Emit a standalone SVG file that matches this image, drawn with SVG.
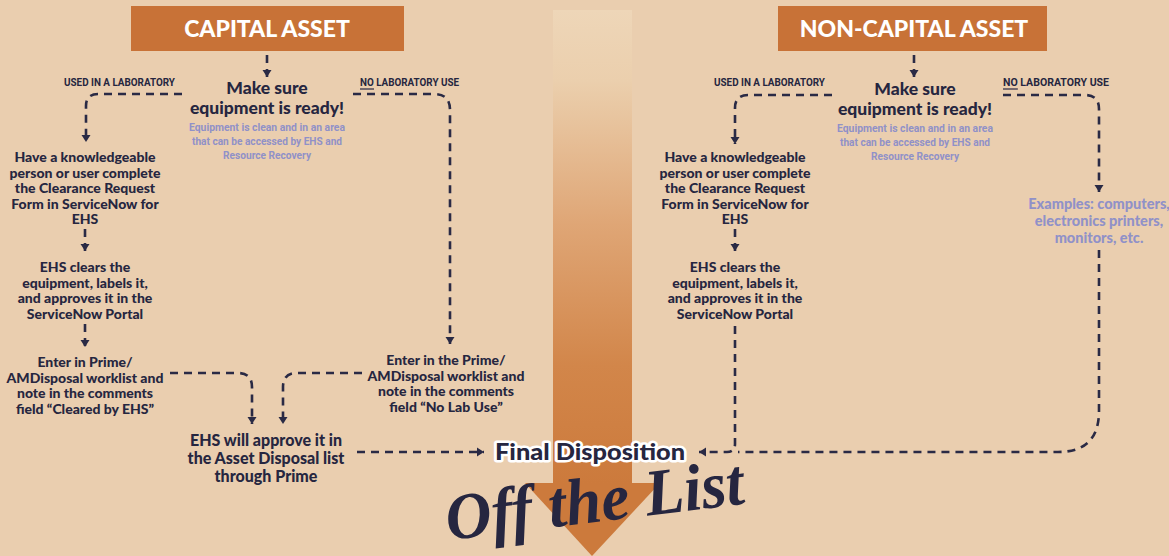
<svg xmlns="http://www.w3.org/2000/svg" width="1169" height="556" viewBox="0 0 1169 556">
<defs>
<style>
.t{font-family:Lato,"Open Sans","Liberation Sans",sans-serif;font-weight:900;fill:#262640;text-anchor:middle}
.body{font-size:14px}
.big{font-size:16px}
.head{font-size:17.5px}
.title{font-size:23px;fill:#ffffff}
.sub{font-family:Roboto,"Liberation Sans",sans-serif;font-weight:700;font-size:10.5px;fill:#9091c8;text-anchor:middle}
.ex{font-size:14.5px;fill:#9091c8}
.lab{font-family:Roboto,"Liberation Sans",sans-serif;font-weight:700;font-size:10.5px;fill:#262640}
.box{fill:#c87237}
.dash{fill:none;stroke:#2a2a45;stroke-width:2.6;stroke-dasharray:8 6;marker-end:url(#ah)}
.dashn{fill:none;stroke:#2a2a45;stroke-width:2.6;stroke-dasharray:8 6}
.final{font-size:22px;stroke:#ffffff;stroke-width:5px;stroke-linejoin:round;paint-order:stroke}
</style>
<marker id="ah" markerUnits="userSpaceOnUse" markerWidth="12" markerHeight="12" viewBox="-1 -6 10 12" refX="7" refY="0" orient="auto">
<path d="M0,-4.5 L7,0 L0,4.5 Z" fill="#2a2a45"/>
</marker>
<linearGradient id="shaft" x1="0" y1="10" x2="0" y2="484" gradientUnits="userSpaceOnUse">
<stop offset="0" stop-color="#eed6b8"/>
<stop offset="0.15" stop-color="#ebcfad"/>
<stop offset="0.45" stop-color="#dfa676"/>
<stop offset="0.75" stop-color="#d2864a"/>
<stop offset="1" stop-color="#cc7a3c"/>
</linearGradient>
</defs>
<rect x="0" y="0" width="1169" height="556" fill="#eaceaf"/>

<g id="big-arrow">
<rect x="553" y="10" width="79" height="474" fill="url(#shaft)"/>
<path d="M525,483 L660,483 L592,556 Z" fill="#cc7a3c"/>
</g>

<g id="off-the-list">
<text x="595" y="522" transform="rotate(-7 595 505)" font-family="'Liberation Serif',serif" font-style="italic" font-weight="700" font-size="66" fill="#262640" text-anchor="middle" textLength="300" lengthAdjust="spacingAndGlyphs">Off the List</text>
</g>

<g id="connectors">
<path class="dash" d="M267,55 V77"/>
<path class="dash" d="M182,94 H98 Q86,94 86,106 V142"/>
<path class="dash" d="M353,94 H434 Q450,94 450,110 V344"/>
<path class="dash" d="M85,229 V251"/>
<path class="dash" d="M85,324 V347"/>
<path class="dash" d="M170,373 H238 Q252,373 252,387 V424"/>
<path class="dash" d="M362,373 H297 Q283,373 283,387 V424"/>
<path class="dash" d="M357,452 H484"/>
<path class="dash" d="M914,55 V77"/>
<path class="dash" d="M832,95 H748 Q735,95 735,108 V144"/>
<path class="dash" d="M1003,95 H1085 Q1099,95 1099,109 V192"/>
<path class="dash" d="M735,229 V251"/>
<path class="dash" d="M735,326 V444 Q735,452 727,452 H699"/>
<path class="dashn" d="M1099,250 V411 Q1099,452 1058,452 H738"/>
<text class="lab" x="64" y="86" textLength="111" lengthAdjust="spacingAndGlyphs">USED IN A LABORATORY</text>
<text class="lab" x="360" y="86" textLength="99" lengthAdjust="spacingAndGlyphs">NO LABORATORY USE</text>
<line x1="360" y1="89" x2="374" y2="89" stroke="#262640" stroke-width="1.2"/>
<text class="lab" x="714" y="86" textLength="111" lengthAdjust="spacingAndGlyphs">USED IN A LABORATORY</text>
<text class="lab" x="1003" y="86" textLength="106" lengthAdjust="spacingAndGlyphs">NO LABORATORY USE</text>
<line x1="1003" y1="89" x2="1018" y2="89" stroke="#262640" stroke-width="1.2"/>
</g>

<g id="capital-asset">
<rect class="box" x="131" y="6" width="273" height="45"/>
<text class="t title" x="267" y="37">CAPITAL ASSET</text>
</g>

<g id="capital-ready">
<text class="t head" x="267" y="93.5">Make sure</text>
<text class="t head" x="267" y="114">equipment is ready!</text>
<text class="sub" x="267" y="131" textLength="156" lengthAdjust="spacingAndGlyphs">Equipment is clean and in an area</text>
<text class="sub" x="267" y="145" textLength="150" lengthAdjust="spacingAndGlyphs">that can be accessed by EHS and</text>
<text class="sub" x="267" y="159" textLength="88" lengthAdjust="spacingAndGlyphs">Resource Recovery</text>
</g>

<g id="capital-form">
<text class="t body" x="85" y="162">Have a knowledgeable</text>
<text class="t body" x="85" y="177.5">person or user complete</text>
<text class="t body" x="85" y="193">the Clearance Request</text>
<text class="t body" x="85" y="208.5">Form in ServiceNow for</text>
<text class="t body" x="85" y="224">EHS</text>
</g>

<g id="capital-clears">
<text class="t body" x="85" y="272">EHS clears the</text>
<text class="t body" x="85" y="287.5">equipment, labels it,</text>
<text class="t body" x="85" y="303">and approves it in the</text>
<text class="t body" x="85" y="318.5">ServiceNow Portal</text>
</g>

<g id="capital-enter-lab">
<text class="t body" x="85" y="367">Enter in Prime/</text>
<text class="t body" x="85" y="382.5">AMDisposal worklist and</text>
<text class="t body" x="85" y="398">note in the comments</text>
<text class="t body" x="85" y="413.5">field “Cleared by EHS”</text>
</g>

<g id="capital-enter-nolab">
<text class="t body" x="446" y="365">Enter in the Prime/</text>
<text class="t body" x="446" y="380.5">AMDisposal worklist and</text>
<text class="t body" x="446" y="396">note in the comments</text>
<text class="t body" x="446" y="411.5">field “No Lab Use”</text>
</g>

<g id="capital-approve">
<text class="t big" x="266" y="446">EHS will approve it in</text>
<text class="t big" x="266" y="464">the Asset Disposal list</text>
<text class="t big" x="266" y="482">through Prime</text>
</g>

<g id="final-disposition">
<text class="t final" x="590" y="460" textLength="190" lengthAdjust="spacingAndGlyphs">Final Disposition</text>
</g>

<g id="noncapital-asset">
<rect class="box" x="778" y="6" width="269" height="45"/>
<text class="t title" x="914" y="37">NON-CAPITAL ASSET</text>
</g>

<g id="noncapital-ready">
<text class="t head" x="915" y="94.5">Make sure</text>
<text class="t head" x="915" y="115">equipment is ready!</text>
<text class="sub" x="915" y="132" textLength="156" lengthAdjust="spacingAndGlyphs">Equipment is clean and in an area</text>
<text class="sub" x="915" y="146" textLength="150" lengthAdjust="spacingAndGlyphs">that can be accessed by EHS and</text>
<text class="sub" x="915" y="160" textLength="88" lengthAdjust="spacingAndGlyphs">Resource Recovery</text>
</g>

<g id="noncapital-form">
<text class="t body" x="735" y="162">Have a knowledgeable</text>
<text class="t body" x="735" y="177.5">person or user complete</text>
<text class="t body" x="735" y="193">the Clearance Request</text>
<text class="t body" x="735" y="208.5">Form in ServiceNow for</text>
<text class="t body" x="735" y="224">EHS</text>
</g>

<g id="noncapital-clears">
<text class="t body" x="735" y="272">EHS clears the</text>
<text class="t body" x="735" y="287.5">equipment, labels it,</text>
<text class="t body" x="735" y="303">and approves it in the</text>
<text class="t body" x="735" y="318.5">ServiceNow Portal</text>
</g>

<g id="noncapital-examples">
<text class="t ex" x="1099" y="209">Examples: computers,</text>
<text class="t ex" x="1099" y="226">electronics printers,</text>
<text class="t ex" x="1099" y="243">monitors, etc.</text>
</g>
</svg>
